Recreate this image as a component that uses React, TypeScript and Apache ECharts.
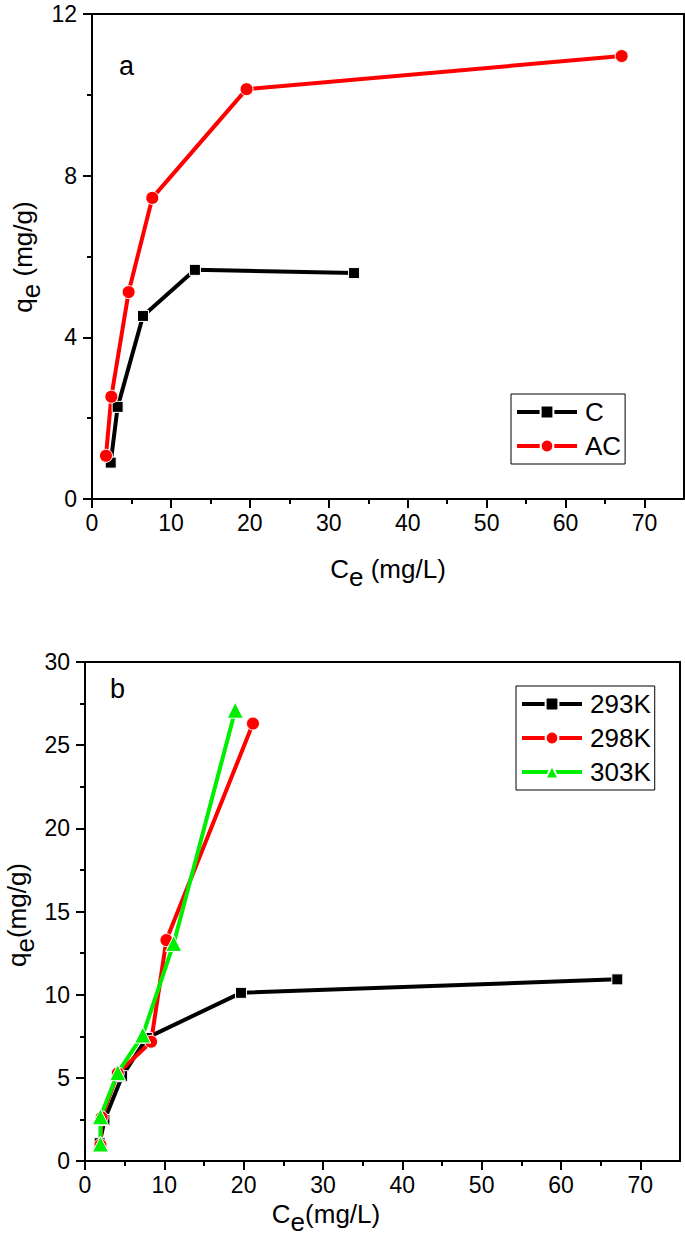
import React, { useEffect, useRef } from 'react';
import * as echarts from 'echarts';

const FONT = "'Liberation Sans', Arial, Helvetica, sans-serif";

// ---- Panel a ----
const CE_C = [2.37, 3.25, 6.46, 13.04, 33.2];
const QE_C = [0.9, 2.28, 4.53, 5.67, 5.59];
const CE_AC = [1.77, 2.45, 4.64, 7.64, 19.58, 67.1];
const QE_AC = [1.07, 2.53, 5.12, 7.45, 10.14, 10.96];

// ---- Panel b ----
const CE_293 = [1.85, 2.45, 4.68, 7.8, 19.66, 67.1];
const QE_293 = [1.07, 2.46, 5.1, 7.4, 10.11, 10.92];
const CE_298 = [1.95, 2.1, 4.13, 8.33, 10.26, 21.17];
const QE_298 = [0.96, 2.62, 5.27, 7.17, 13.28, 26.3];
const CE_303 = [1.95, 1.95, 4.13, 7.28, 11.18, 18.94];
const QE_303 = [1.02, 2.66, 5.31, 7.57, 13.08, 27.1];

// ---- Ticks ----
const X_MAJOR = [0, 10, 20, 30, 40, 50, 60, 70];
const X_MINOR = [5, 15, 25, 35, 45, 55, 65];

const zip = (xs: number[], ys: number[]) => xs.map((x, i) => [x, ys[i]]);

const subTitle = (main: string, sub: string, rest: string, size: number) => ({
  text: `{a|${main}}{s|${sub}}{a|${rest}}`,
  rich: {
    a: { fontSize: size, fontFamily: FONT, fill: '#000', lineHeight: 28, verticalAlign: 'top' },
    s: { fontSize: size, fontFamily: FONT, fill: '#000', lineHeight: 34, verticalAlign: 'bottom' },
  },
});

const majorX = (gridIndex: number) => ({
  gridIndex,
  type: 'value',
  position: 'bottom',
  min: 0,
  max: 75,
  axisLine: { show: true, onZero: false, lineStyle: { color: '#000', width: 2 } },
  axisTick: { show: true, customValues: X_MAJOR, length: 9, lineStyle: { color: '#000', width: 2 } },
  axisLabel: { customValues: X_MAJOR, fontSize: 23, color: '#000', fontFamily: FONT, margin: 12 },
  splitLine: { show: false },
});

const minorX = (gridIndex: number) => ({
  gridIndex,
  type: 'value',
  position: 'bottom',
  min: 0,
  max: 75,
  axisLine: { show: false, onZero: false },
  axisTick: { show: true, customValues: X_MINOR, length: 5, lineStyle: { color: '#000', width: 2 } },
  axisLabel: { show: false },
  splitLine: { show: false },
});

const yAx = (gridIndex: number, max: number, interval: number) => ({
  gridIndex,
  type: 'value',
  min: 0,
  max,
  interval,
  axisLine: { show: true, onZero: false, lineStyle: { color: '#000', width: 2 } },
  axisTick: { show: true, length: 9, lineStyle: { color: '#000', width: 2 } },
  minorTick: { show: true, splitNumber: 2, length: 5, lineStyle: { color: '#000', width: 2 } },
  axisLabel: { fontSize: 23, color: '#000', fontFamily: FONT, margin: 15 },
  splitLine: { show: false },
});

const lineSeries = (
  name: string,
  data: number[][],
  color: string,
  symbol: string,
  symbolSize: number,
  xAxisIndex: number,
  yAxisIndex: number
) => ({
  name,
  type: 'line',
  data,
  xAxisIndex,
  yAxisIndex,
  symbol,
  symbolSize,
  showSymbol: true,
  lineStyle: { color, width: 4 },
  itemStyle: { color, borderColor: '#fff', borderWidth: 1 },
  emphasis: { disabled: true },
});

const legendBase = {
  orient: 'vertical',
  itemWidth: 60,
  itemHeight: 16,
  itemGap: 8,
  padding: [5, 4, 5, 4],
  borderColor: '#000',
  borderWidth: 1,
  backgroundColor: '#fff',
  lineStyle: { width: 4 },
  textStyle: { fontSize: 26, color: '#000', fontFamily: FONT, padding: [0, 0, 0, 3] },
};

const option = {
  animation: false,
  backgroundColor: '#fff',
  grid: [
    { left: 92, top: 14, width: 592, height: 485, show: true, borderColor: '#000', borderWidth: 2, backgroundColor: 'transparent' },
    { left: 85, top: 662, width: 595, height: 499, show: true, borderColor: '#000', borderWidth: 2, backgroundColor: 'transparent' },
  ],
  xAxis: [majorX(0), minorX(0), majorX(1), minorX(1)],
  yAxis: [yAx(0, 12, 4), yAx(1, 30, 5)],
  legend: [
    { ...legendBase, data: ['C', 'AC'], left: 511, top: 394 },
    { ...legendBase, data: ['293K', '298K', '303K'], left: 516, top: 686 },
  ],
  series: [
    lineSeries('C', zip(CE_C, QE_C), '#000000', 'rect', 11, 0, 0),
    lineSeries('AC', zip(CE_AC, QE_AC), '#ff0000', 'circle', 13, 0, 0),
    lineSeries('293K', zip(CE_293, QE_293), '#000000', 'rect', 11, 2, 1),
    lineSeries('298K', zip(CE_298, QE_298), '#ff0000', 'circle', 13, 2, 1),
    lineSeries('303K', zip(CE_303, QE_303), '#00ee00', 'triangle', 16, 2, 1),
  ],
  graphic: [
    { type: 'text', x: 119, y: 66, style: { text: 'a', fontSize: 27, fontFamily: FONT, fill: '#000', verticalAlign: 'middle' } },
    { type: 'text', x: 110, y: 689, style: { text: 'b', fontSize: 27, fontFamily: FONT, fill: '#000', verticalAlign: 'middle' } },
    { type: 'text', x: 388, y: 573, style: { ...subTitle('C', 'e', ' (mg/L)', 26), align: 'center', verticalAlign: 'middle' } },
    { type: 'text', x: 326, y: 1218, style: { ...subTitle('C', 'e', '(mg/L)', 26), align: 'center', verticalAlign: 'middle' } },
    { type: 'text', x: 27, y: 257, rotation: Math.PI / 2, style: { ...subTitle('q', 'e', ' (mg/g)', 26), align: 'center', verticalAlign: 'middle' } },
    { type: 'text', x: 21, y: 915, rotation: Math.PI / 2, style: { ...subTitle('q', 'e', '(mg/g)', 26), align: 'center', verticalAlign: 'middle' } },
  ],
};

export default function App() {
  const ref = useRef<HTMLDivElement>(null);
  useEffect(() => {
    const chart = echarts.init(ref.current!, null, { renderer: 'svg' });
    chart.setOption(option as any);
    return () => chart.dispose();
  }, []);
  return (
    <div
      ref={ref}
      style={{ position: 'absolute', left: 0, top: 0, width: 685, height: 1251, background: '#fff' }}
    />
  );
}
